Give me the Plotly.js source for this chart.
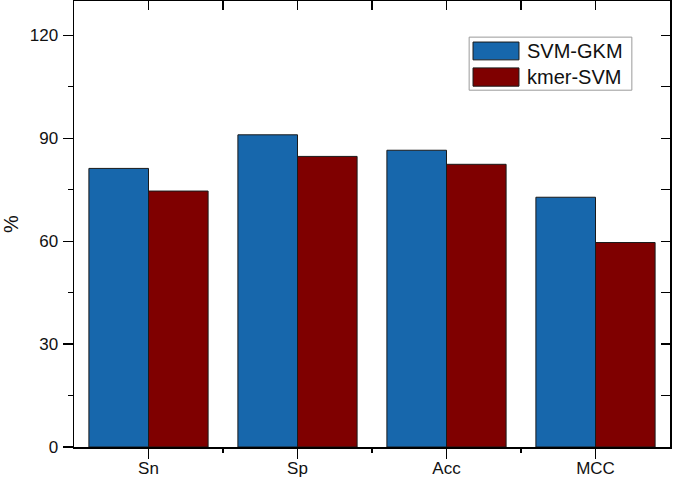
<!DOCTYPE html>
<html>
<head>
<meta charset="utf-8">
<script src="https://cdn.plot.ly/plotly-3.0.1.min.js"></script>
<style>html,body{margin:0;padding:0;background:#fff;}#chart{width:675px;height:479px;}</style>
</head>
<body>
<div id="chart"></div>
<script>
const categories = ["Sn", "Sp", "Acc", "MCC"];
const seriesNames = ["SVM-GKM", "kmer-SVM"];
const svmGkm = [81.2, 91.0, 86.5, 72.8];
const kmerSvm = [74.6, 84.7, 82.4, 59.6];
const yTicks = [0, 30, 60, 90, 120];
const colors = ["#1767ac", "#7f0000"];

const FONT = "Arial, 'Liberation Sans', sans-serif";
const seriesVals = [svmGkm, kmerSvm];
const traces = seriesVals.map((vals, i) => ({
  type: "bar",
  name: seriesNames[i],
  x: categories,
  y: vals,
  marker: { color: colors[i], line: { color: "#1a1a1a", width: 1 } },
  hoverinfo: "x+y+name"
}));
// invisible helper traces so the frame axes (bottom minor ticks, top, right) are drawn
traces.push({ type: "scatter", mode: "markers", x: [0], y: [0], xaxis: "x2", yaxis: "y",
  marker: { opacity: 0 }, hoverinfo: "skip", showlegend: false });
traces.push({ type: "scatter", mode: "markers", x: [0], y: [0], xaxis: "x3", yaxis: "y2",
  marker: { opacity: 0 }, hoverinfo: "skip", showlegend: false });

const boundaries = categories.slice(1).map((c, i) => i + 0.5);
const centers = categories.map((c, i) => i);

// custom legend
const shapes = [
  { type: "rect", xref: "paper", yref: "paper", x0: 0.663, x1: 0.936, y0: 0.800, y1: 0.919,
    line: { color: "#9a9a9a", width: 1 }, fillcolor: "#ffffff", layer: "above" },
  { type: "rect", xref: "paper", yref: "paper", x0: 0.6695, x1: 0.7466, y0: 0.868, y1: 0.908,
    line: { color: "#1a1a1a", width: 1 }, fillcolor: colors[0], layer: "above" },
  { type: "rect", xref: "paper", yref: "paper", x0: 0.6695, x1: 0.7466, y0: 0.809, y1: 0.850,
    line: { color: "#1a1a1a", width: 1 }, fillcolor: colors[1], layer: "above" }
];
const annotations = [
  { xref: "paper", yref: "paper", x: 0.757, y: 0.888, xanchor: "left", yanchor: "middle",
    text: seriesNames[0], showarrow: false, font: { family: FONT, size: 20, color: "#111" } },
  { xref: "paper", yref: "paper", x: 0.757, y: 0.829, xanchor: "left", yanchor: "middle",
    text: seriesNames[1], showarrow: false, font: { family: FONT, size: 20, color: "#111" } }
];

const layout = {
  width: 675, height: 479,
  margin: { l: 74, r: 5, t: 1, b: 32 },
  paper_bgcolor: "#ffffff", plot_bgcolor: "#ffffff",
  showlegend: false,
  barmode: "group", bargap: 0.2, bargroupgap: 0,
  font: { family: FONT, size: 17, color: "#111" },
  xaxis: {
    type: "category", range: [-0.5, 3.5],
    showline: true, linecolor: "#000", linewidth: 1.5,
    ticks: "outside", ticklen: 10, tickwidth: 1.2, tickcolor: "#000",
    showgrid: false, zeroline: false,
    tickfont: { family: FONT, size: 17, color: "#111" },
    ticklabelstandoff: -5
  },
  xaxis2: {
    overlaying: "x", side: "bottom", range: [-0.5, 3.5],
    tickmode: "array", tickvals: boundaries,
    ticks: "outside", ticklen: 5, tickwidth: 1.2, tickcolor: "#000",
    showticklabels: false, showline: false, showgrid: false, zeroline: false
  },
  xaxis3: {
    overlaying: "x", side: "top", range: [-0.5, 3.5],
    tickmode: "array", tickvals: centers.concat(boundaries),
    ticks: "inside", ticklen: 9, tickwidth: 1.2, tickcolor: "#000",
    showticklabels: false, showline: true, linecolor: "#000", linewidth: 1.5,
    showgrid: false, zeroline: false
  },
  yaxis: {
    range: [0, 130], tickmode: "array", tickvals: yTicks,
    ticks: "outside", ticklen: 10, tickwidth: 1.2, tickcolor: "#000",
    minor: { dtick: 15, tick0: 0, ticks: "outside", ticklen: 5, tickwidth: 1.2, tickcolor: "#000", showgrid: false },
    showline: true, linecolor: "#000", linewidth: 1.5,
    showgrid: false, zeroline: false,
    tickfont: { family: FONT, size: 17, color: "#111" },
    ticklabelstandoff: 1,
    title: { text: "%", font: { family: FONT, size: 20, color: "#111" }, standoff: 12 }
  },
  yaxis2: {
    overlaying: "y", side: "right", range: [0, 130], tickmode: "array", tickvals: yTicks,
    ticks: "inside", ticklen: 9, tickwidth: 1.2, tickcolor: "#000",
    minor: { dtick: 15, tick0: 0, ticks: "inside", ticklen: 9, tickwidth: 1.2, tickcolor: "#000", showgrid: false },
    showticklabels: false, showline: true, linecolor: "#000", linewidth: 1.5,
    showgrid: false, zeroline: false
  },
  shapes: shapes,
  annotations: annotations
};

Plotly.newPlot("chart", traces, layout, { displayModeBar: false, staticPlot: true });
</script>
</body>
</html>
